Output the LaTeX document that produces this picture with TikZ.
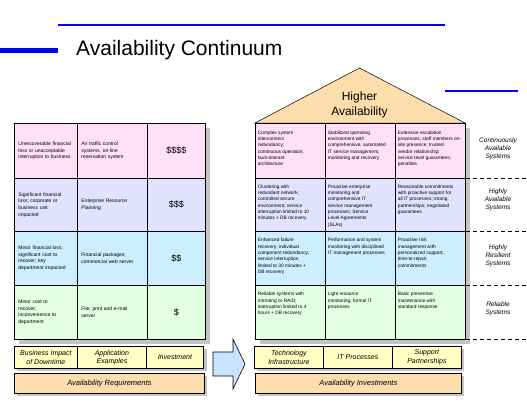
\documentclass[tikz,border=0pt]{standalone}
\usepackage{fontspec}
\setmainfont{Liberation Sans}
\setsansfont{Liberation Sans}
\definecolor{ACRule}{HTML}{0000FF}
\definecolor{ACRowOne}{HTML}{FFE0F6}
\definecolor{ACRowTwo}{HTML}{E2E2FF}
\definecolor{ACRowThree}{HTML}{CCEEFF}
\definecolor{ACRowFour}{HTML}{E2FFE2}
\definecolor{ACHead}{HTML}{FFFFC4}
\definecolor{ACBase}{HTML}{FCDDAC}
\definecolor{ACArrow}{HTML}{C8E2FF}
\definecolor{ACShadow}{HTML}{C4C4C4}
\newcommand{\topcell}[1]{\parbox[c][40pt][t]{65pt}{\raggedright #1}}

\begin{document}
\begin{tikzpicture}[x=1pt,y=-1pt,font=\sffamily,
  cell/.style={draw=black,line width=0.8pt,anchor=north west,inner ysep=0pt},
  reqtext/.style={font=\sffamily\fontsize{5}{6.6}\selectfont,align=left},
  reqA/.style={cell,reqtext,minimum width=63,text width=55,inner xsep=0pt},
  reqB/.style={cell,reqtext,minimum width=70,text width=62,inner xsep=0pt},
  reqC/.style={cell,minimum width=58,inner xsep=0pt,font=\sffamily\fontsize{9}{11}\selectfont},
  invcell/.style={cell,minimum width=70,inner xsep=2.5pt,font=\sffamily\fontsize{4.8}{6.3}\selectfont},
  rowone/.style={fill=ACRowOne,minimum height=55},
  rowtwo/.style={fill=ACRowTwo,minimum height=53},
  rowthree/.style={fill=ACRowThree,minimum height=54},
  rowfour/.style={fill=ACRowFour,minimum height=54},
  tier/.style={align=center,font=\sffamily\itshape\fontsize{6.5}{7.7}\selectfont},
  tierline/.style={dash pattern=on 4pt off 3pt,line width=0.8pt},
  headcell/.style={draw=black,line width=0.8pt,fill=ACHead,anchor=north west,minimum height=22,minimum width=69,inner sep=0pt,align=center,font=\sffamily\itshape\fontsize{7}{8.3}\selectfont},
  basebox/.style={draw=black,line width=0.8pt,fill=ACBase,anchor=north west,minimum height=20,inner sep=0pt,font=\sffamily\itshape\fontsize{7.5}{9}\selectfont},
  shade/.style={fill=ACShadow}]
  \useasboundingbox (0,0) rectangle (527,407);

  % title and rules
  \draw[ACRule,line width=2.7pt] (58,25) -- (445,25);
  \draw[ACRule,line width=5pt] (0,50) -- (58,50);
  \draw[ACRule,line width=2.3pt] (445,91) -- (518,91);
  \node[anchor=base west,inner sep=0pt,font=\sffamily\fontsize{21}{25}\selectfont] (title) at (76,55.5) {Availability Continuum};

  % shadows
  \fill[shade] (19,128) rectangle (210,344);
  \fill[shade] (260,128) rectangle (470,344);
  \fill[shade] (17,349) rectangle (207,371);
  \fill[shade] (17,376) rectangle (207,396);
  \fill[shade] (257,349) rectangle (464,371);
  \fill[shade] (258,376) rectangle (464,396);

  % roof
  \coordinate (apex) at (359.5,68);
  \draw[fill=ACBase,line width=0.5pt] (255,123) -- (apex) -- (465,123) -- cycle;
  \node[align=center,font=\sffamily\fontsize{12}{15}\selectfont] (higher) at (359.5,105) {Higher\\Availability};

  % requirements table
  \node[reqA,rowone] (req11) at (14,123) {Unrecoverable financial\\loss or unacceptable\\interruption to business};
  \node[reqB,rowone] (req12) at (77,123) {Air traffic control\\systems, on-line\\reservation system};
  \node[reqC,rowone] (req13) at (147,123) {\$\$\$\$};
  \node[reqA,rowtwo] (req21) at (14,178) {Significant financial\\loss; corporate or\\business unit\\impacted};
  \node[reqB,rowtwo] (req22) at (77,178) {Enterprise Resource\\Planning};
  \node[reqC,rowtwo] (req23) at (147,178) {\$\$\$};
  \node[reqA,rowthree] (req31) at (14,231) {Minor financial loss;\\significant cost to\\recover; key\\department impacted};
  \node[reqB,rowthree] (req32) at (77,231) {Financial packages;\\commercial web server};
  \node[reqC,rowthree] (req33) at (147,231) {\$\$};
  \node[reqA,rowfour] (req41) at (14,285) {Minor cost to\\recover;\\inconvenience to\\department};
  \node[reqB,rowfour] (req42) at (77,285) {File, print and e-mail\\server};
  \node[reqC,rowfour] (req43) at (147,285) {\$};

  % investments table
  \node[invcell,rowone] (inv11) at (255,123) {\topcell{Complex system\\interconnect\\redundancy;\\continuous operation;\\fault-tolerant\\architecture}};
  \node[invcell,rowone] (inv12) at (325,123) {\topcell{Stabilized operating\\environment with\\comprehensive, automated\\IT service management,\\monitoring and recovery}};
  \node[invcell,rowone] (inv13) at (395,123) {\topcell{Extensive escalation\\processes; staff members on-\\site presence; trusted\\vendor relationship;\\service level guarantees;\\penalties}};
  \node[invcell,rowtwo] (inv21) at (255,178) {\topcell{Clustering with\\redundant network;\\controlled secure\\environment; service\\interruption limited to 10\\minutes + DB recovery}};
  \node[invcell,rowtwo] (inv22) at (325,178) {\topcell{Proactive enterprise\\monitoring and\\comprehensive IT\\service management\\processes; Service\\Level Agreements\\(SLAs)}};
  \node[invcell,rowtwo] (inv23) at (395,178) {\topcell{Reasonable commitments\\with proactive support for\\all IT processes; strong\\partnerships; negotiated\\guarantees}};
  \node[invcell,rowthree] (inv31) at (255,231) {\topcell{Enhanced failure\\recovery; individual\\component redundancy;\\service interruption\\limited to 30 minutes +\\DB recovery}};
  \node[invcell,rowthree] (inv32) at (325,231) {\topcell{Performance and system\\monitoring with disciplined\\IT management processes}};
  \node[invcell,rowthree] (inv33) at (395,231) {\topcell{Proactive risk\\management with\\personalized support;\\time-to-repair\\commitments}};
  \node[invcell,rowfour] (inv41) at (255,285) {\topcell{Reliable systems with\\mirroring or RAID;\\interruption limited to 4\\hours + DB recovery}};
  \node[invcell,rowfour] (inv42) at (325,285) {\topcell{Light resource\\monitoring; formal IT\\processes}};
  \node[invcell,rowfour] (inv43) at (395,285) {\topcell{Basic preventive\\maintenance with\\standard response}};

  % tiers
  \draw[tierline] (inv13.south east) -- +(62,0);
  \draw[tierline] (inv23.south east) -- +(62,0);
  \draw[tierline] (inv33.south east) -- +(62,0);
  \draw[tierline] (inv43.south east) -- +(62,0);
  \node[tier] (tierone) at (498,149) {Continuously\\Available\\Systems};
  \node[tier] (tiertwo) at (498,200) {Highly\\Available\\Systems};
  \node[tier] (tierthree) at (498,256) {Highly\\Resilient\\Systems};
  \node[tier] (tierfour) at (498,308.5) {Reliable\\Systems};

  % column headers
  \node[headcell,minimum width=63] (reqhead1) at (14,346) {Business Impact\\of Downtime};
  \node[headcell] (reqhead2) at (77,346) {Application\\Examples};
  \node[headcell,minimum width=57] (reqhead3) at (146,346) {Investment};
  \node[headcell] (invhead1) at (254,346) {Technology\\Infrastructure};
  \node[headcell] (invhead2) at (323,346) {IT Processes};
  \node[headcell] (invhead3) at (392,346) {Support\\Partnerships};
  \node[basebox,minimum width=190] (reqbase) at (14,373) {Availability Requirements};
  \node[basebox,minimum width=206] (invbase) at (255,373) {Availability Investments};

  % arrow
  \draw[fill=ACArrow,line width=0.6pt] (213,352) -- (233,352) -- (233,339) -- (245,364) -- (233,389) -- (233,376) -- (213,376) -- cycle;
\end{tikzpicture}
\end{document}
